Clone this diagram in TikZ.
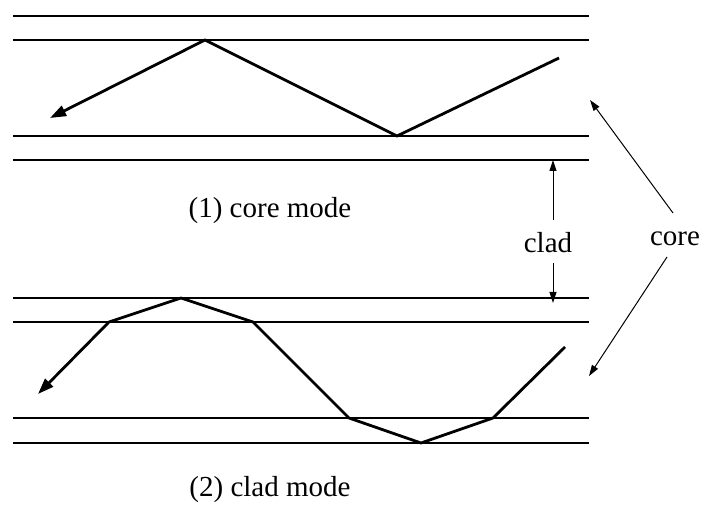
\documentclass[tikz,border=0pt]{standalone}
\usepackage{fontspec}
\setmainfont{Liberation Serif}
\usetikzlibrary{arrows.meta}
\begin{document}
\begin{tikzpicture}[x=1pt,y=-1pt,
  wall/.style={line width=1.3pt},
  ray/.style={line width=2.8pt,line join=miter,-{Triangle[length=16pt,width=11pt]}},
  pointer/.style={line width=1pt,-{Triangle[length=11pt,width=7pt]}},
  label/.style={font=\fontsize{29}{34}\selectfont,inner sep=0pt}]
\useasboundingbox (0,0) rectangle (701,510);

% fibre walls, core mode
\foreach \y in {16,40,136,160} \draw[wall] (13,\y) -- (589,\y);
% fibre walls, clad mode
\foreach \y in {298,322,418,443} \draw[wall] (13,\y) -- (589,\y);

% ray paths
\coordinate (a0) at (559,58);
\coordinate (a1) at (397,136);
\coordinate (a2) at (205,40);
\coordinate (a3) at (50,118);
\draw[ray] (a0) -- (a1) -- (a2) -- (a3);

\coordinate (b0) at (565,347);
\coordinate (b1) at (493,418);
\coordinate (b2) at (421,443);
\coordinate (b3) at (349,418);
\coordinate (b4) at (253,322);
\coordinate (b5) at (181,298);
\coordinate (b6) at (109,322);
\coordinate (b7) at (38,394);
\draw[ray] (b0) -- (b1) -- (b2) -- (b3) -- (b4) -- (b5) -- (b6) -- (b7);

% labels
\node[label] (mode1) at (270,211) {(1) core mode};
\node[label] (mode2) at (270,490) {(2) clad mode};
\node[label] (clad) at (548,243) {clad};
\node[label] (core) at (675,239) {core};

% clad thickness marker
\coordinate (cladtopS) at (553,220);
\coordinate (cladtopE) at (553,160);
\coordinate (cladbotS) at (553,263);
\coordinate (cladbotE) at (553,303);
\draw[pointer] (cladtopS) -- (cladtopE);
\draw[pointer] (cladbotS) -- (cladbotE);

% core pointers
\coordinate (coreUp) at (673,213);
\coordinate (coreUpE) at (590,100);
\coordinate (coreDn) at (667,257);
\coordinate (coreDnE) at (589,376);
\draw[pointer] (coreUp) -- (coreUpE);
\draw[pointer] (coreDn) -- (coreDnE);
\end{tikzpicture}
\end{document}
